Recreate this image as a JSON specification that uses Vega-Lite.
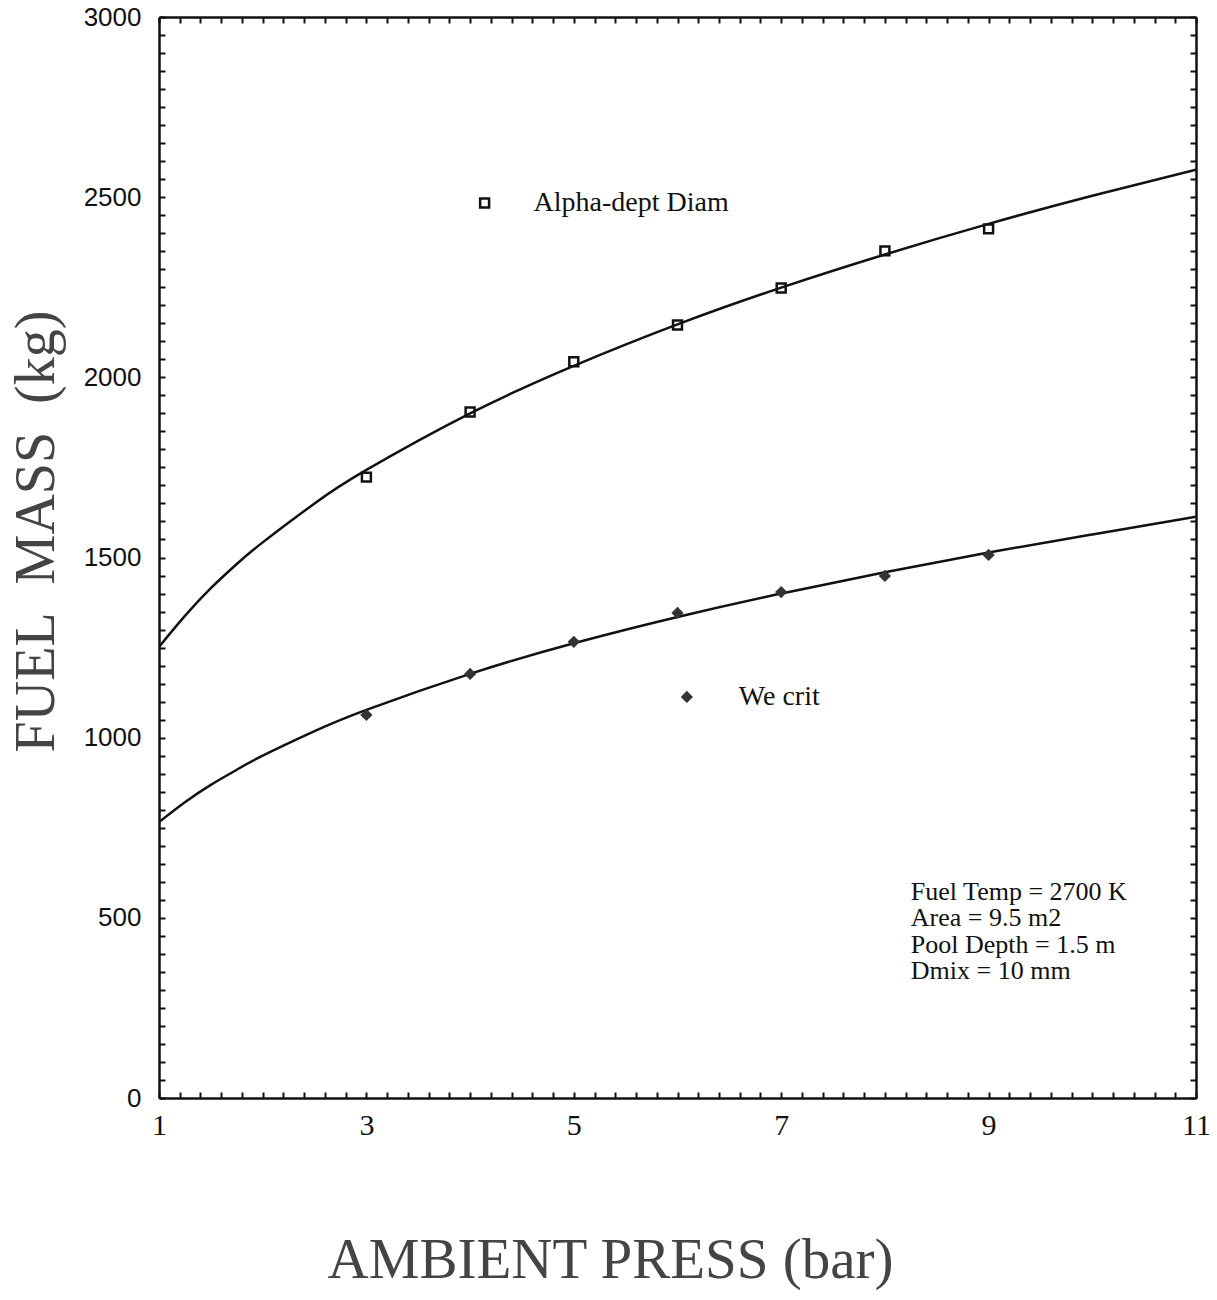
{
  "$schema": "https://vega.github.io/schema/vega-lite/v6.json",
  "width": 1037,
  "height": 1081,
  "padding": {"left": 8, "top": 4, "right": 5, "bottom": 5},
  "config": {"view": {"stroke": null}, "font": "Liberation Serif"},
  "resolve": {"axis": {"x": "independent", "y": "independent"}},
  "layer": [
    {
      "data": {"values": [
        {"series": "Alpha-dept Diam", "p": 1, "mass": 1252},
        {"series": "Alpha-dept Diam", "p": 1.25, "mass": 1338},
        {"series": "Alpha-dept Diam", "p": 1.5, "mass": 1415},
        {"series": "Alpha-dept Diam", "p": 1.75, "mass": 1482},
        {"series": "Alpha-dept Diam", "p": 2, "mass": 1542},
        {"series": "Alpha-dept Diam", "p": 2.5, "mass": 1650},
        {"series": "Alpha-dept Diam", "p": 3, "mass": 1743},
        {"series": "Alpha-dept Diam", "p": 4, "mass": 1900},
        {"series": "Alpha-dept Diam", "p": 5, "mass": 2032},
        {"series": "Alpha-dept Diam", "p": 6, "mass": 2147},
        {"series": "Alpha-dept Diam", "p": 7, "mass": 2249},
        {"series": "Alpha-dept Diam", "p": 8, "mass": 2341},
        {"series": "Alpha-dept Diam", "p": 9, "mass": 2426},
        {"series": "Alpha-dept Diam", "p": 10, "mass": 2504},
        {"series": "Alpha-dept Diam", "p": 11, "mass": 2576},
        {"series": "We crit", "p": 1, "mass": 766},
        {"series": "We crit", "p": 1.25, "mass": 821},
        {"series": "We crit", "p": 1.5, "mass": 869},
        {"series": "We crit", "p": 1.75, "mass": 911},
        {"series": "We crit", "p": 2, "mass": 950},
        {"series": "We crit", "p": 2.5, "mass": 1018},
        {"series": "We crit", "p": 3, "mass": 1077},
        {"series": "We crit", "p": 4, "mass": 1177},
        {"series": "We crit", "p": 5, "mass": 1262},
        {"series": "We crit", "p": 6, "mass": 1335},
        {"series": "We crit", "p": 7, "mass": 1400},
        {"series": "We crit", "p": 8, "mass": 1459},
        {"series": "We crit", "p": 9, "mass": 1514},
        {"series": "We crit", "p": 10, "mass": 1564},
        {"series": "We crit", "p": 11, "mass": 1613}
      ]},
      "mark": {"type": "line", "color": "#111", "strokeWidth": 2.5, "interpolate": "natural", "clip": true},
      "encoding": {
        "x": {"field": "p", "type": "quantitative",
          "scale": {"domain": [1, 11], "nice": false, "zero": false},
          "axis": {"orient": "bottom", "title": "AMBIENT PRESS (bar)",
            "values": [1,1.2,1.4,1.6,1.8,2,2.2,2.4,2.6,2.8,3,3.2,3.4,3.6,3.8,4,4.2,4.4,4.6,4.8,5,5.2,5.4,5.6,5.8,6,6.2,6.4,6.6,6.8,7,7.2,7.4,7.6,7.8,8,8.2,8.4,8.6,8.8,9,9.2,9.4,9.6,9.8,10,10.2,10.4,10.6,10.8,11],
            "labelExpr": "indexof([1,3,5,7,9,11], datum.value) >= 0 ? '' + datum.value : ''",
            "labelOverlap": false, "labelBound": false, "labelFlush": false,
            "grid": false, "tickSize": -6, "tickWidth": 2, "tickColor": "#111",
            "domainColor": "#111", "domainWidth": 2.5,
            "labelFont": "Liberation Serif", "labelFontSize": 30, "labelColor": "#111", "labelPadding": 18,
            "titleFont": "Liberation Serif", "titleFontSize": 57, "titleFontWeight": "normal", "titleColor": "#444", "titlePadding": 92,
            "titleAnchor": "middle", "titleX": 451}},
        "y": {"field": "mass", "type": "quantitative",
          "scale": {"domain": [0, 3000], "nice": false},
          "axis": {"orient": "left", "title": "FUEL\u00a0 MASS\u00a0 (kg)",
            "values": [0,50,100,150,200,250,300,350,400,450,500,550,600,650,700,750,800,850,900,950,1000,1050,1100,1150,1200,1250,1300,1350,1400,1450,1500,1550,1600,1650,1700,1750,1800,1850,1900,1950,2000,2050,2100,2150,2200,2250,2300,2350,2400,2450,2500,2550,2600,2650,2700,2750,2800,2850,2900,2950,3000],
            "labelExpr": "datum.value % 500 === 0 ? '' + datum.value : ''",
            "labelOverlap": false, "labelBound": false, "labelFlush": false,
            "grid": false, "tickSize": -6, "tickWidth": 2, "tickColor": "#111",
            "domainColor": "#111", "domainWidth": 2.5,
            "labelFont": "Liberation Sans", "labelFontSize": 26, "labelColor": "#111", "labelPadding": 24,
            "titleFont": "Liberation Serif", "titleFontSize": 56, "titleFontWeight": "normal", "titleColor": "#444", "titlePadding": 18,
            "titleAnchor": "middle", "titleY": 514}},
        "detail": {"field": "series"}
      }
    },
    {
      "data": {"values": [
        {"series": "Alpha-dept Diam", "p": 3, "mass": 1723},
        {"series": "Alpha-dept Diam", "p": 4, "mass": 1904},
        {"series": "Alpha-dept Diam", "p": 5, "mass": 2043},
        {"series": "Alpha-dept Diam", "p": 6, "mass": 2145},
        {"series": "Alpha-dept Diam", "p": 7, "mass": 2248},
        {"series": "Alpha-dept Diam", "p": 8, "mass": 2351},
        {"series": "Alpha-dept Diam", "p": 9, "mass": 2412}
      ]},
      "mark": {"type": "point", "shape": "square", "filled": false, "color": "#111", "strokeWidth": 2.5, "size": 80, "opacity": 1},
      "encoding": {
        "x": {"field": "p", "type": "quantitative",
          "scale": {"domain": [1, 11], "nice": false, "zero": false},
          "axis": {"orient": "top", "title": null, "labels": false,
            "values": [1,1.2,1.4,1.6,1.8,2,2.2,2.4,2.6,2.8,3,3.2,3.4,3.6,3.8,4,4.2,4.4,4.6,4.8,5,5.2,5.4,5.6,5.8,6,6.2,6.4,6.6,6.8,7,7.2,7.4,7.6,7.8,8,8.2,8.4,8.6,8.8,9,9.2,9.4,9.6,9.8,10,10.2,10.4,10.6,10.8,11],
            "grid": false, "tickSize": -6, "tickWidth": 2, "tickColor": "#111",
            "domainColor": "#111", "domainWidth": 2.5}},
        "y": {"field": "mass", "type": "quantitative",
          "scale": {"domain": [0, 3000], "nice": false},
          "axis": {"orient": "right", "title": null, "labels": false,
            "values": [0,50,100,150,200,250,300,350,400,450,500,550,600,650,700,750,800,850,900,950,1000,1050,1100,1150,1200,1250,1300,1350,1400,1450,1500,1550,1600,1650,1700,1750,1800,1850,1900,1950,2000,2050,2100,2150,2200,2250,2300,2350,2400,2450,2500,2550,2600,2650,2700,2750,2800,2850,2900,2950,3000],
            "grid": false, "tickSize": -6, "tickWidth": 2, "tickColor": "#111",
            "domainColor": "#111", "domainWidth": 2.5}}
      }
    },
    {
      "data": {"values": [
        {"series": "We crit", "p": 3, "mass": 1063},
        {"series": "We crit", "p": 4, "mass": 1177},
        {"series": "We crit", "p": 5, "mass": 1266},
        {"series": "We crit", "p": 6, "mass": 1346},
        {"series": "We crit", "p": 7, "mass": 1404},
        {"series": "We crit", "p": 8, "mass": 1449},
        {"series": "We crit", "p": 9, "mass": 1507}
      ]},
      "mark": {"type": "point", "shape": "diamond", "filled": true, "color": "#333", "size": 150, "opacity": 1},
      "encoding": {
        "x": {"field": "p", "type": "quantitative", "axis": null},
        "y": {"field": "mass", "type": "quantitative", "axis": null}
      }
    },
    {
      "data": {"values": [
        {"series": "Alpha-dept Diam", "p": 4.14, "mass": 2484}
      ]},
      "layer": [
        {"mark": {"type": "point", "shape": "square", "filled": false, "color": "#111", "strokeWidth": 2.5, "size": 80, "opacity": 1},
         "encoding": {
          "x": {"field": "p", "type": "quantitative", "axis": null},
          "y": {"field": "mass", "type": "quantitative", "axis": null}}},
        {"mark": {"type": "text", "align": "left", "baseline": "middle", "dx": 49, "font": "Liberation Serif", "fontSize": 28, "color": "#111"},
         "encoding": {
          "x": {"field": "p", "type": "quantitative", "axis": null},
          "y": {"field": "mass", "type": "quantitative", "axis": null},
          "text": {"field": "series"}}}
      ]
    },
    {
      "data": {"values": [
        {"series": "We crit", "p": 6.09, "mass": 1113}
      ]},
      "layer": [
        {"mark": {"type": "point", "shape": "diamond", "filled": true, "color": "#333", "size": 150, "opacity": 1},
         "encoding": {
          "x": {"field": "p", "type": "quantitative", "axis": null},
          "y": {"field": "mass", "type": "quantitative", "axis": null}}},
        {"mark": {"type": "text", "align": "left", "baseline": "middle", "dx": 52, "font": "Liberation Serif", "fontSize": 28, "color": "#111"},
         "encoding": {
          "x": {"field": "p", "type": "quantitative", "axis": null},
          "y": {"field": "mass", "type": "quantitative", "axis": null},
          "text": {"field": "series"}}}
      ]
    },
    {
      "data": {"values": [
        {"p": 8.25, "mass": 608, "note": "Fuel Temp = 2700 K\nArea = 9.5 m2\nPool Depth = 1.5 m\nDmix = 10 mm"}
      ]},
      "mark": {"type": "text", "align": "left", "baseline": "top", "lineBreak": "\n", "lineHeight": 26.5, "font": "Liberation Serif", "fontSize": 26, "color": "#111"},
      "encoding": {
        "x": {"field": "p", "type": "quantitative", "axis": null},
        "y": {"field": "mass", "type": "quantitative", "axis": null},
        "text": {"field": "note"}
      }
    }
  ]
}
